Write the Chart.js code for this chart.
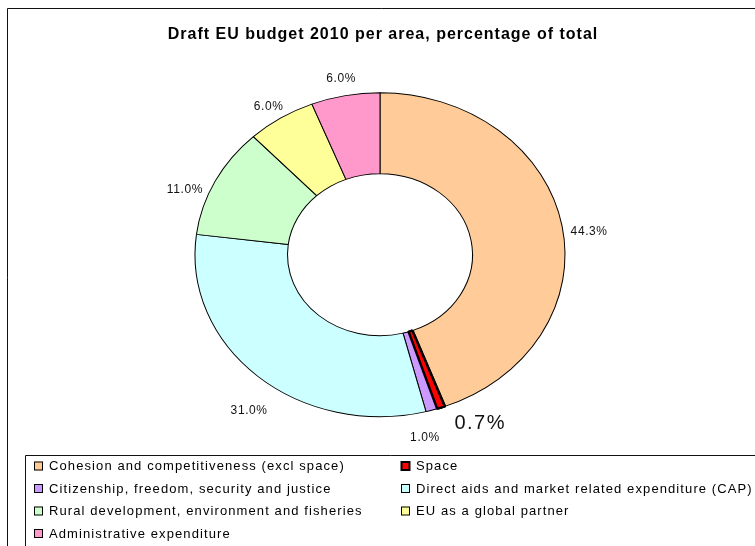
<!DOCTYPE html>
<html>
<head>
<meta charset="utf-8">
<script src="https://cdn.jsdelivr.net/npm/chart.js@4.4.0/dist/chart.umd.min.js"></script>
<style>
html,body{margin:0;padding:0;background:#fff;overflow:hidden}
#c{position:absolute;left:0;top:0}
</style>
</head>
<body>
<canvas id="c" width="755" height="546"></canvas>
<script>
// ---- data ----
const titleText = 'Draft EU budget 2010 per area, percentage of total';
const categories = [
  'Cohesion and competitiveness (excl space)',
  'Space',
  'Citizenship, freedom, security and justice',
  'Direct aids and market related expenditure (CAP)',
  'Rural development, environment and fisheries',
  'EU as a global partner',
  'Administrative expenditure'
];
const values = [44.3, 0.7, 1.0, 31.0, 11.0, 6.0, 6.0];
const valueLabels = ['44.3%', '0.7%', '1.0%', '31.0%', '11.0%', '6.0%', '6.0%'];
const colors = ['#FFCC99', '#FF0000', '#CC99FF', '#CCFFFF', '#CCFFCC', '#FFFF99', '#FF99CC'];

// ---- style / layout constants ----
const FONT = '"Liberation Sans", Arial, sans-serif';
const PIE = { cx: 380, cy: 254.7, rx: 185, ry: 162 };
const labelStyle = {
  size: [12, 20, 12, 12, 12, 12, 12],
  spacing: [0.6, 1.5, 0.6, 0.6, 0.6, 0.6, 0.6],
  nudge: [[1, 8], [28, -1], [-13, 14], [9, 24], [-7, 15], [0, 1], [0, -3]]
};

const ellipsePlugin = {
  id: 'ellipse',
  beforeDatasetsDraw(chart) {
    const meta = chart.getDatasetMeta(0);
    const arc = meta.data[0];
    const ctx = chart.ctx;
    const sx = PIE.rx / arc.outerRadius, sy = PIE.ry / arc.outerRadius;
    ctx.save();
    ctx.translate(PIE.cx, PIE.cy);
    ctx.scale(sx, sy);
    ctx.translate(-arc.x, -arc.y);
  },
  afterDatasetsDraw(chart) {
    const meta = chart.getDatasetMeta(0);
    // redraw the thin "Space" slice on top so its outline is whole
    meta.data[1].draw(chart.ctx);
    chart.ctx.restore();
  }
};

const decoPlugin = {
  id: 'deco',
  beforeDraw(chart) {
    const ctx = chart.ctx;
    ctx.save();
    ctx.fillStyle = '#fff';
    ctx.fillRect(0, 0, chart.width, chart.height);
    ctx.strokeStyle = '#111';
    ctx.lineWidth = 1;
    // outer frame (left + top visible)
    ctx.beginPath();
    ctx.moveTo(7.5, chart.height);
    ctx.lineTo(7.5, 8.5);
    ctx.lineTo(chart.width, 8.5);
    ctx.stroke();
    // legend frame
    ctx.beginPath();
    ctx.moveTo(25.5, chart.height);
    ctx.lineTo(25.5, 455.5);
    ctx.lineTo(chart.width, 455.5);
    ctx.stroke();
    ctx.restore();
  },
  afterDraw(chart) {
    const ctx = chart.ctx;
    const meta = chart.getDatasetMeta(0);
    ctx.save();
    // title
    ctx.fillStyle = '#000';
    ctx.font = 'bold 16px ' + FONT;
    ctx.letterSpacing = '1px';
    ctx.textAlign = 'center';
    ctx.textBaseline = 'middle';
    ctx.fillText(titleText, 383, 35);

    // value labels
    meta.data.forEach((arc, i) => {
      const mid = (arc.startAngle + arc.endAngle) / 2;
      const c = Math.cos(mid), s = Math.sin(mid);
      const size = labelStyle.size[i];
      ctx.font = size + 'px ' + FONT;
      ctx.letterSpacing = labelStyle.spacing[i] + 'px';
      const w = ctx.measureText(valueLabels[i]).width;
      const g = 8;
      const x = PIE.cx + (PIE.rx + g) * c + (w / 2) * c + labelStyle.nudge[i][0];
      const y = PIE.cy + (PIE.ry + g) * s + (size / 2) * s + labelStyle.nudge[i][1];
      ctx.fillStyle = '#111';
      ctx.textAlign = 'center';
      ctx.textBaseline = 'middle';
      ctx.fillText(valueLabels[i], x, y);
    });

    // legend (two columns)
    ctx.font = '13px ' + FONT;
    ctx.letterSpacing = '1.1px';
    ctx.textAlign = 'left';
    ctx.textBaseline = 'middle';
    const colX = [34, 401];
    const rowY = [466, 488.5, 511, 533.5];
    categories.forEach((name, i) => {
      const col = i % 2, row = Math.floor(i / 2);
      const bx = colX[col], by = rowY[row];
      ctx.fillStyle = colors[i];
      ctx.fillRect(bx, by - 4.5, 9, 9);
      ctx.strokeStyle = '#000';
      ctx.lineWidth = (i === 1) ? 2 : 1;
      ctx.strokeRect(bx + 0.5, by - 4, 8, 8);
      ctx.fillStyle = '#000';
      ctx.fillText(name, bx + 15, by + 0.5);
    });
    ctx.restore();
  }
};

new Chart(document.getElementById('c'), {
  type: 'doughnut',
  data: {
    labels: categories,
    datasets: [{
      data: values,
      backgroundColor: colors,
      borderColor: '#000',
      borderWidth: [1, 2.5, 1, 1, 1, 1, 1]
    }]
  },
  options: {
    responsive: false,
    animation: false,
    events: [],
    cutout: '50%',
    rotation: 0,
    layout: { padding: { left: 195, right: 190, top: 70, bottom: 106 } },
    plugins: {
      legend: { display: false },
      title: { display: false },
      tooltip: { enabled: false }
    }
  },
  plugins: [decoPlugin, ellipsePlugin]
});
</script>
</body>
</html>
